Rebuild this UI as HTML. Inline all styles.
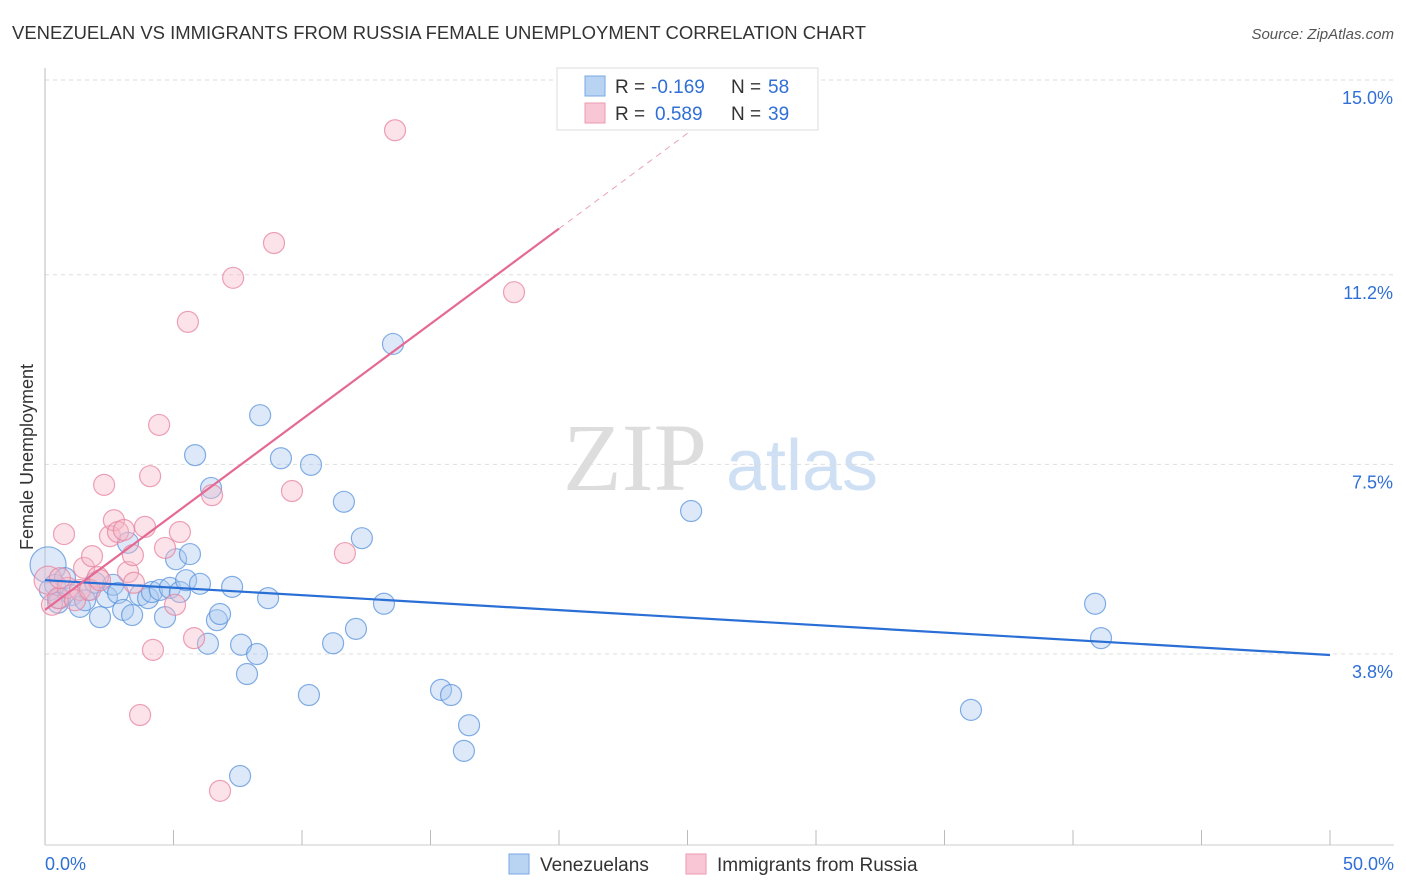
<!DOCTYPE html>
<html><head><meta charset="utf-8"><style>
body{margin:0;background:#fff;font-family:"Liberation Sans",sans-serif;}
svg{display:block}
</style></head><body>
<svg id="chart" width="1406" height="892" xmlns="http://www.w3.org/2000/svg">
<text x="12" y="39" font-size="18" fill="#333" textLength="854" lengthAdjust="spacingAndGlyphs">VENEZUELAN VS IMMIGRANTS FROM RUSSIA FEMALE UNEMPLOYMENT CORRELATION CHART</text>
<text x="1394" y="39" font-size="15" fill="#555" text-anchor="end" font-style="italic">Source: ZipAtlas.com</text>
<g>
<text x="635" y="490" font-size="96" fill="#ddd" font-family="Liberation Serif" text-anchor="middle">ZIP</text>
<text x="802" y="490" font-size="72" fill="#cfe0f4" text-anchor="middle">atlas</text>
</g>
<g id="grid"></g>
<g id="axes"></g>
<g id="pts"></g>
<g id="lines"></g>
<text transform="translate(33,457) rotate(-90)" font-size="18" fill="#333" text-anchor="middle">Female Unemployment</text>
<g>
<rect x="557" y="68" width="261" height="62" fill="#fff" stroke="#ddd"/>
<rect x="585" y="76" width="20" height="20" fill="#b9d3f3" stroke="#7aa8e3"/>
<rect x="585" y="103" width="20" height="20" fill="#f8c6d4" stroke="#ec9ab2"/>
<text x="615" y="93" font-size="19" fill="#333">R =</text>
<text x="651" y="93" font-size="19" fill="#2f6fd6">-0.169</text>
<text x="731" y="93" font-size="19" fill="#333">N =</text>
<text x="768" y="93" font-size="19" fill="#2f6fd6">58</text>
<text x="615" y="120" font-size="19" fill="#333">R =</text>
<text x="655" y="120" font-size="19" fill="#2f6fd6">0.589</text>
<text x="731" y="120" font-size="19" fill="#333">N =</text>
<text x="768" y="120" font-size="19" fill="#2f6fd6">39</text>
</g>
<g>
<rect x="509" y="854" width="20" height="20" fill="#b9d3f3" stroke="#7aa8e3"/>
<text x="540" y="871" font-size="19" fill="#333">Venezuelans</text>
<rect x="686" y="854" width="20" height="20" fill="#f8c6d4" stroke="#ec9ab2"/>
<text x="717" y="871" font-size="19" fill="#333">Immigrants from Russia</text>
</g>
</svg>
<script>
const yTicks=[15.0,11.2,7.5,3.8];
const yTickLabels=["15.0%","11.2%","7.5%","3.8%"];
const xTickLabels=["0.0%","50.0%"];
const blueX=[0.12,0.39,0.78,0.58,1.05,1.36,1.67,1.95,2.14,2.41,2.65,2.84,3.04,3.23,3.39,3.70,4.01,4.16,4.47,4.67,4.86,5.10,5.25,5.49,5.64,5.84,6.03,6.34,6.46,6.69,6.81,7.28,7.63,7.86,8.25,8.37,8.68,9.18,10.27,10.35,11.21,11.63,12.10,12.33,13.19,13.54,15.41,15.80,16.50,16.30,7.59,25.14,36.03,40.86,41.09,0.19,0.51,1.56];
const blueY=[5.54,5.15,5.28,4.89,4.95,4.72,5.05,5.19,4.52,4.91,5.15,4.99,4.66,5.97,4.56,4.95,4.89,5.01,5.05,4.52,5.09,5.65,5.01,5.24,5.75,7.68,5.17,4.0,7.04,4.46,4.58,5.11,3.98,3.41,3.8,8.46,4.89,7.62,3.0,7.49,4.01,6.77,4.29,6.06,4.78,9.85,3.10,3.0,2.41,1.91,1.42,6.59,2.71,4.78,4.11,5.05,4.8,4.85];
const pinkX=[0.12,0.27,0.51,0.74,0.89,1.36,1.52,1.83,2.06,2.30,2.53,2.68,2.84,3.07,3.23,3.42,3.46,3.70,3.89,4.09,4.20,4.44,4.67,5.06,5.25,5.56,5.80,6.50,6.81,7.32,8.91,9.61,11.67,13.62,18.25,0.58,1.17,1.75,2.14];
const pinkY=[5.24,4.76,4.89,6.14,5.09,5.05,5.48,5.71,5.30,7.10,6.1,6.41,6.18,6.22,5.4,5.73,5.19,2.61,6.28,7.27,3.88,8.27,5.87,4.76,6.18,10.28,4.11,6.90,1.13,11.14,11.82,6.98,5.77,14.02,10.86,5.28,4.85,5.05,5.24];
const blueTrend=[5.24,3.78];
const pinkTrend=[4.66,0.372];
const NS="http://www.w3.org/2000/svg";
const X=v=>45+v*25.7, Y=v=>80+(15-v)*51.25;
function mk(t,a,p){const e=document.createElementNS(NS,t);for(const k in a)e.setAttribute(k,a[k]);document.getElementById(p).appendChild(e);return e;}
yTicks.forEach((t,i)=>{
 const g=mk('line',{x1:45,x2:1394,y1:Y(t),y2:Y(t),stroke:'#ddd','stroke-dasharray':'4,4'},'grid');
 
 
 const l=mk('text',{x:1393,y:Y(t)+24,'font-size':18,fill:'#2f6fd6','text-anchor':'end'},'axes');
 l.textContent=yTickLabels[i];
 
 
});
mk('line',{x1:45,x2:45,y1:68,y2:845,stroke:'#bbb'},'axes');
mk('line',{x1:45,x2:1394,y1:845,y2:845,stroke:'#ccc'},'axes');
for(let i=1;i<=10;i++){const t=mk('line',{x1:X(i*5),x2:X(i*5),y1:830,y2:845,stroke:'#bbb'},'axes');
 
 }
[[0,'start',45],[50,'end',1394]].forEach((d,i)=>{const l=mk('text',{x:d[2],y:870,'font-size':18,fill:'#2f6fd6','text-anchor':d[1]},'axes');l.textContent=xTickLabels[i];
 
 });
function pts(xs,ys,fill,stroke,name){xs.forEach((x,i)=>{const c=mk('circle',{cx:X(x),cy:Y(ys[i]),r:i==0?(name=='blue-point'?18:14):10.5,fill:fill,'fill-opacity':0.4,stroke:stroke,'stroke-opacity':0.75,'stroke-width':1.2},'pts');
 
 });}
pts(blueX,blueY,'#a9c8f0','#5a93dc','blue-point');
pts(pinkX,pinkY,'#f6b8c8','#e7829f','pink-point');
const bl=mk('line',{x1:X(0),y1:Y(blueTrend[0]),x2:X(50),y2:Y(blueTrend[1]),stroke:'#2a6fd6','stroke-width':2.2},'lines');


const pl=mk('line',{x1:X(0),y1:Y(pinkTrend[0]),x2:X(20),y2:Y(pinkTrend[0]+pinkTrend[1]*20),stroke:'#e46a94','stroke-width':2.2},'lines');


const pd=mk('line',{x1:X(20),y1:Y(pinkTrend[0]+pinkTrend[1]*20),x2:X(26),y2:Y(pinkTrend[0]+pinkTrend[1]*26),stroke:'#e9a0b8','stroke-width':1,'stroke-dasharray':'6,5'},'lines');


</script>
</body></html>
